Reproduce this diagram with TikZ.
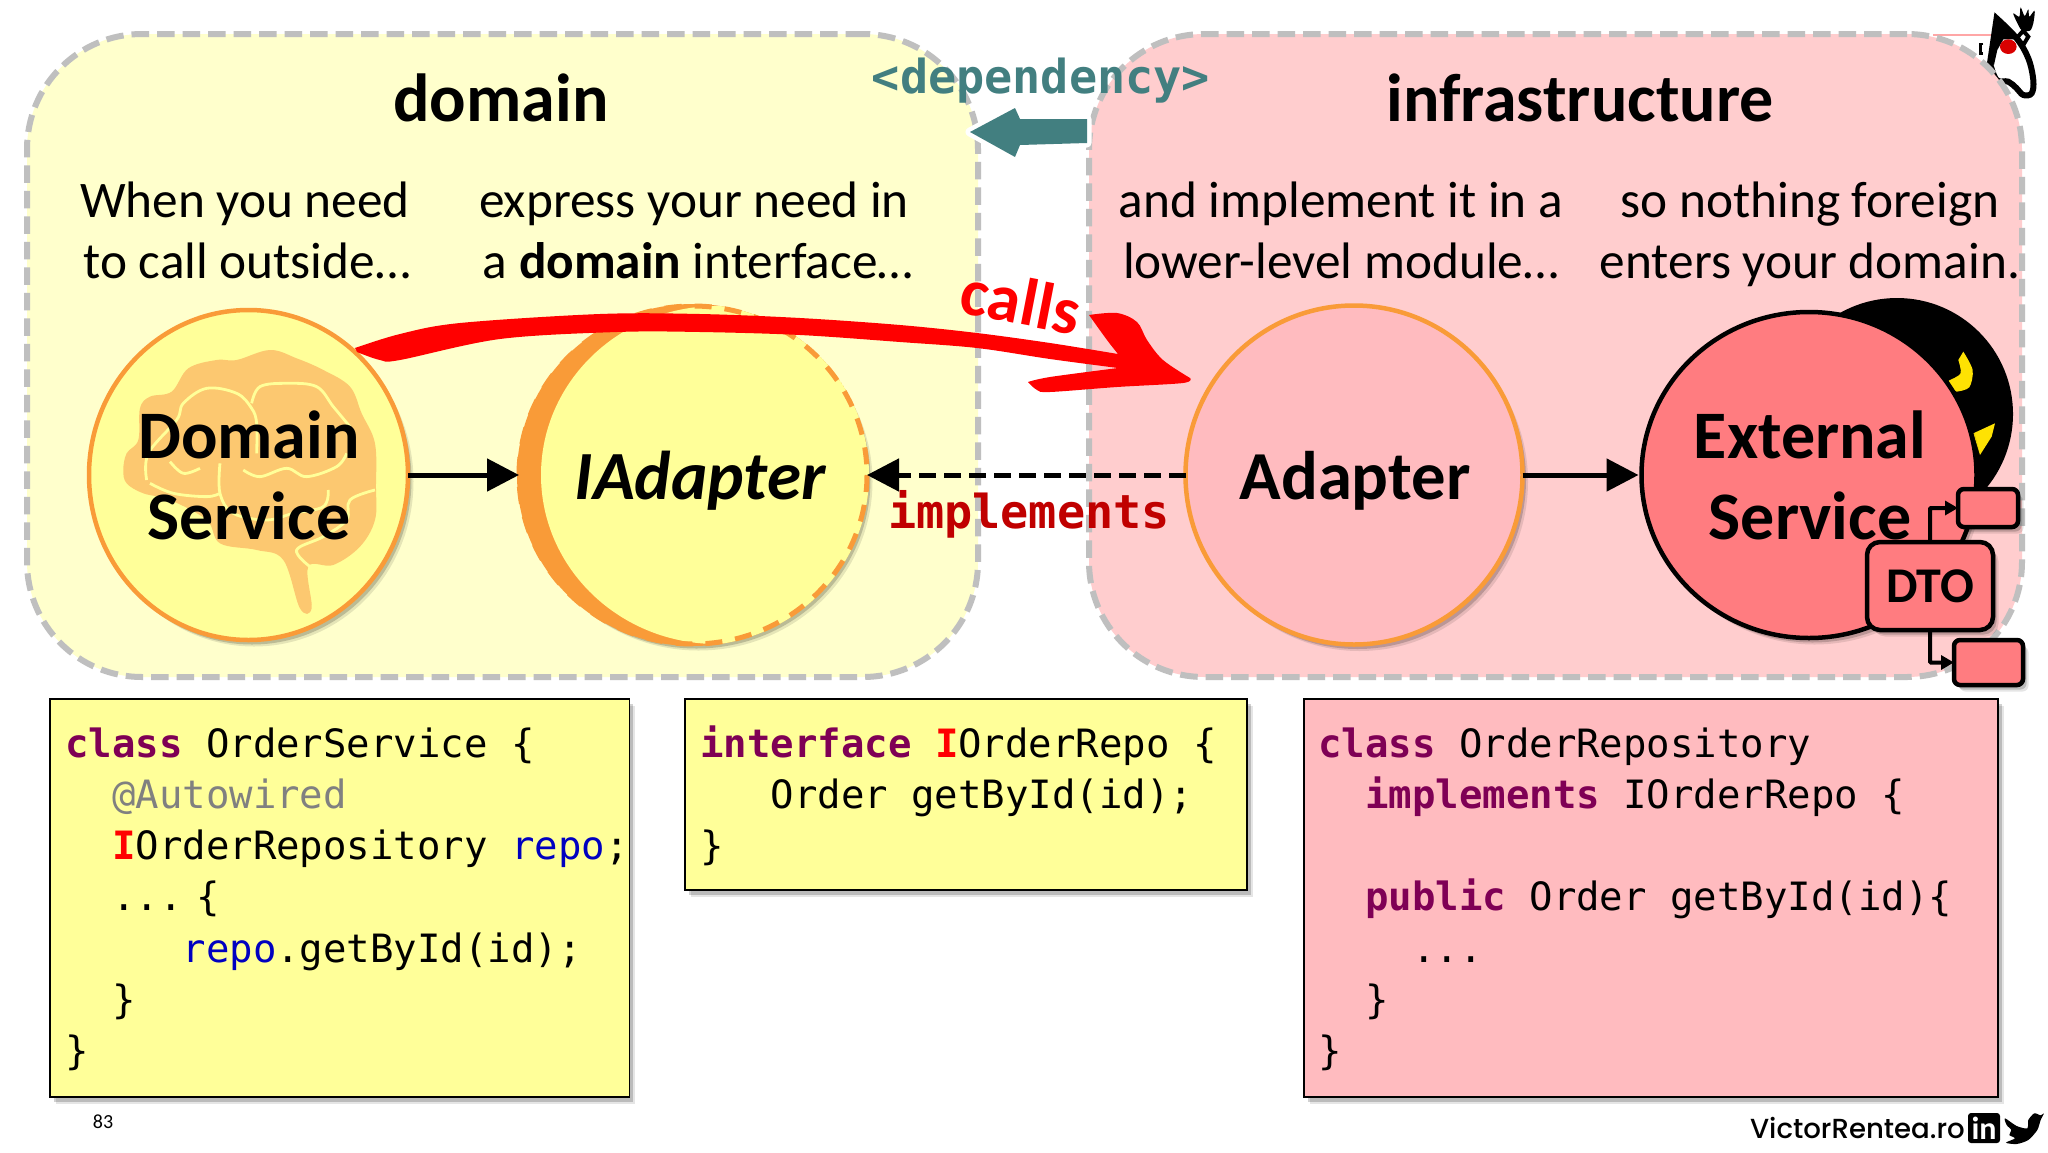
\documentclass[tikz,border=0pt]{standalone}
\usepackage{fontspec}
\setmainfont{Carlito}
\newfontfamily\codefont{DejaVu Sans Mono}
\newfontfamily\popfont{Poppins Medium}
\usetikzlibrary{arrows.meta,shadows,shapes.geometric}
\definecolor{panelY}{HTML}{FFFFCC}
\definecolor{panelR}{HTML}{FFCDCE}
\definecolor{dashG}{HTML}{BFBFBF}
\definecolor{yel}{HTML}{FFFF99}
\definecolor{pnk}{HTML}{FFBBBF}
\definecolor{ext}{HTML}{FF7C80}
\definecolor{org}{HTML}{F99B38}
\definecolor{brainC}{HTML}{FCC870}
\definecolor{tealA}{HTML}{427F80}
\definecolor{kw}{HTML}{7F0055}
\definecolor{fld}{HTML}{0000C0}
\definecolor{darkred}{HTML}{C00000}
\newcommand{\kwd}[1]{\textcolor{kw}{\bfseries #1}}
\newcommand{\fldn}[1]{\textcolor{fld}{#1}}
\newcommand{\ind}[1]{\hspace*{#1\dimexpr 23.48pt\relax}}
\tikzset{
  softshadow/.style={general shadow={fill=black,opacity=.10,shadow xshift=5.5pt,shadow yshift=-6.5pt},
                     general shadow={fill=black,opacity=.18,shadow xshift=3.5pt,shadow yshift=-4.5pt}},
  panel/.style={rectangle,inner sep=0,outer sep=0,rounded corners=115pt,line width=6pt,draw=dashG,dash pattern=on 17.5pt off 8pt},
  ball/.style={ellipse,inner sep=0,outer sep=0,line width=4pt,softshadow},
  codebox/.style={rectangle,inner sep=0,outer sep=0,draw=black,line width=1.6pt,softshadow},
  code/.style={anchor=north west,inner sep=0,align=left,font=\codefont\fontsize{39}{51.2}\selectfont},
  para/.style={anchor=north,inner sep=0,align=center,font=\fontsize{51.3}{61}\selectfont},
  head/.style={anchor=base,inner sep=0,font=\bfseries\fontsize{68}{80}\selectfont},
  balltext/.style={anchor=north,inner sep=0,align=center,font=\bfseries\fontsize{68}{81}\selectfont},
  dtobox/.style={rectangle,inner sep=0,outer sep=0,draw=black,line width=4.5pt,fill=ext,softshadow},
  dep/.style={line width=5pt,-{Triangle[length=32pt,width=32pt]}},
  smalldep/.style={line width=4pt,-{Triangle[length=13pt,width=14pt]}},
}
\begin{document}
\begin{tikzpicture}[x=1pt,y=-1pt]
\useasboundingbox (0,0) rectangle (2048,1152);
\fill[white] (0,0) rectangle (2048,1152);

% Duke
\begin{scope}[shift={(1600,0)},x=.3333pt,y=-.3333pt]
  \draw[draw=red!35,line width=2.2pt] (1000,106) -- (1195,106);
  \draw[line width=2.5pt] (1150,132) -- (1142,132) -- (1142,160) -- (1150,160);
  \draw[fill=white,line width=6pt] plot[smooth,tension=.6] coordinates {(1190,55) (1250,115) (1285,175) (1300,240) (1295,280) (1270,285) (1250,265) (1225,245) (1190,240) (1170,190)} -- cycle;
  \fill plot[smooth,tension=.4] coordinates {(1190,50) (1220,85) (1250,118)} -- (1210,118) -- (1192,150) -- (1182,195) -- (1170,188) -- (1180,140) -- (1190,100) -- cycle;
  \fill[red!85!black] (1225,140) ellipse [x radius=25,y radius=22];
  \draw[line width=4pt,fill=white] (1252,112) -- (1270,92) -- (1285,110) -- (1270,135) -- cycle;
  \fill plot[smooth cycle,tension=.5] coordinates {(1240,40) (1258,50) (1262,22) (1274,48) (1285,28) (1288,50) (1304,32) (1300,70) (1290,92) (1265,90) (1250,65)};
\end{scope}

% Panels
\node[panel,fill=panelY,minimum width=951pt,minimum height=643pt] (domain) at (502.5,355.5) {};
\node[panel,fill=panelR,minimum width=933pt,minimum height=643pt] (infra) at (1555.5,355.5) {};

% Headings
\node[head] (domainT) at (501,121) {domain};
\node[head] (infraT) at (1580,121) {infrastructure};

% Paragraphs
\node[para] (p1) at (245,175) {\strut When you need\\\hspace*{4pt}to call outside…};
\node[para] (p2) at (694,175) {\strut express your need in\\\hspace*{8pt}a \textbf{domain} interface…};
\node[para] (p3) at (1341,175) {\strut and implement it in a\\lower-level module…};
\node[para] (p4) at (1810,175) {\strut so nothing foreign\\enters your domain.};

% Domain Service
\node[ball,fill=yel,draw=org,line width=4.5pt,minimum width=319pt,minimum height=330pt] (ds) at (248.5,475) {};
\begin{scope}[shift={(60,280)},x=.3333pt,y=-.3333pt]
  \fill[brainC] plot[smooth cycle,tension=.6] coordinates {(190,570) (200,520) (235,480) (240,385) (270,350) (335,335) (385,265) (470,240) (530,240) (630,210) (710,235) (790,270) (870,320) (905,400) (945,490) (948,620) (945,720) (900,800) (820,855) (745,860) (755,985) (720,985) (670,840) (590,810) (480,790) (440,720) (330,660) (250,640) (200,610)};
  \begin{scope}[draw=yel,line width=2.8pt]
  \draw plot[smooth,tension=.6] coordinates {(260,600) (265,520) (350,420) (370,370) (440,325) (530,340) (575,385) (590,430) (590,520)};
  \draw plot[smooth,tension=.6] coordinates {(575,370) (600,320) (680,310) (770,320) (820,380) (870,440)};
  \draw plot[smooth,tension=.6] coordinates {(550,570) (600,590) (680,565) (740,590) (830,560) (860,520)};
  \draw plot[smooth,tension=.6] coordinates {(330,545) (370,580) (420,565)};
  \draw plot[smooth,tension=.6] coordinates {(480,550) (480,640) (520,700) (620,720) (700,700) (790,680) (805,630)};
  \draw plot[smooth,tension=.6] coordinates {(945,630) (870,660) (860,720) (790,770) (710,810) (750,860)};
  \draw plot[smooth,tension=.6] coordinates {(270,610) (340,640) (440,650) (480,640)};
  \end{scope}
\end{scope}
\node[balltext] (dsT) at (249,401.8) {\strut Domain\\Service};

% IAdapter
\node[ball,fill=yel,minimum width=348pt,minimum height=338pt] (ia) at (693,475) {};
\begin{scope}
  \clip (ia.center) ellipse [x radius=176,y radius=171];
  \fill[org] (ia.center) ellipse [x radius=176,y radius=171];
  \fill[yel] (717,475) ellipse [x radius=176,y radius=169];
\end{scope}
\draw[org,line width=5pt,dash pattern=on 17pt off 13pt] (ia.center) ellipse [x radius=174,y radius=169];
\node[anchor=base,inner sep=0,font=\bfseries\itshape\fontsize{69}{80}\selectfont] (iaT) at (700,499) {IAdapter};

% Adapter
\node[ball,fill=pnk,draw=org,line width=4.5pt,minimum width=337pt,minimum height=339pt] (ad) at (1354,475) {};
\node[anchor=base,inner sep=0,font=\bfseries\fontsize{68.7}{80}\selectfont] (adT) at (1355,499) {Adapter};

% External service
\fill[black] (1897,414) circle [radius=116];
\begin{scope}[shift={(1620,280)},x=.3333pt,y=-.3333pt]
  \fill[yellow!85!orange] plot[smooth,tension=.5] coordinates {(1030,215) (1058,270) (1048,322) (1010,335)} -- (975,310) -- plot[smooth,tension=.5] coordinates {(990,300) (1022,280) (1015,240)} -- cycle;
  \fill[yellow!85!orange] (1125,430) -- (1115,470) -- (1080,525) -- (1060,460) -- cycle;
\end{scope}
\node[ball,fill=ext,draw=black,line width=4.5pt,minimum width=335pt,minimum height=326pt] (ex) at (1809,475) {};
\node[balltext] (exT) at (1810,401.8) {\strut External\\Service};

% DTO group
\node[dtobox,rounded corners=6pt,minimum width=60pt,minimum height=38pt] (smallA) at (1988,508) {};
\node[dtobox,rounded corners=6pt,minimum width=69pt,minimum height=45pt] (smallB) at (1988.5,662.5) {};
\node[dtobox,rounded corners=13pt,minimum width=126pt,minimum height=88pt,font=\bfseries\fontsize{50}{58}\selectfont] (dto) at (1930,586) {DTO};
\draw[smalldep,rounded corners=1pt] (dto.north) -- (dto.north |- smallA.west) -- (smallA.west);
\draw[smalldep,rounded corners=1pt] (dto.south) -- (dto.south |- smallB.west) -- (smallB.west);

% Solid and dashed dependencies
\draw[dep] (ds.east) -- (ia.west);
\draw[dep,shorten >=3pt] (ad.east) -- (ex.west);
\draw[dep,dash pattern=on 17pt off 8pt] (ad.west) -- (ia.east);
\node[anchor=base,inner sep=0,text=darkred,font=\codefont\bfseries\fontsize{46.8}{50}\selectfont] (impl) at (1029,528) {implements};

% Dependency arrow
\node[anchor=base,inner sep=0,text=tealA,font=\codefont\bfseries\fontsize{46.8}{50}\selectfont] (depT) at (1041,93) {<dependency>};
\path[preaction={draw=white,line width=9pt,line join=round,general shadow={fill=black,opacity=.18,shadow xshift=2pt,shadow yshift=-3pt}},fill=tealA]
  (970,132) -- (1015,108) -- (1020,119) -- (1087,119) -- (1087,143) -- (1020,145) -- (1015,157) -- cycle;

% Calls arrow
\fill[red] plot[smooth,tension=.55] coordinates {(355,348) (400,334) (460,323) (600,314) (700,314) (800,318) (900,325) (977,333) (1050,343) (1118,354)}
  -- plot[smooth,tension=.55] coordinates {(1118,354) (1107,340) (1089,315)}
  -- plot[smooth,tension=.55] coordinates {(1089,315) (1117,313) (1137,322) (1147,340) (1163,360) (1190,378)}
  -- plot[smooth,tension=.55] coordinates {(1190,378) (1183,383) (1117,387) (1050,392) (1037,390) (1028,382)}
  -- plot[smooth,tension=.55] coordinates {(1028,382) (1050,377) (1118,368)}
  -- plot[smooth,tension=.55] coordinates {(1118,368) (1050,359) (977,348) (900,342) (800,335) (700,332) (617,332) (500,339) (400,360) (380,360) (357,352)} -- cycle;
\node[inner sep=0,rotate=-11,text=red,font=\bfseries\fontsize{67}{70}\selectfont] (callsT) at (1021,301) {calls};

% Code boxes
\node[codebox,fill=yel,minimum width=579.5pt,minimum height=398pt] (c1) at (339.75,898) {};
\node[codebox,fill=yel,minimum width=562pt,minimum height=191pt] (c2) at (966,794.5) {};
\node[codebox,fill=pnk,minimum width=694pt,minimum height=398pt] (c3) at (1651,898) {};
\node[code] (c1T) at (65,721.2) {\strut\kwd{class} OrderService \{\\
\ind{2}\textcolor{gray}{@Autowired}\\
\ind{2}\textcolor{red}{\bfseries I}OrderRepository \fldn{repo};\\
\ind{2}...\hspace{14pt}\{\\
\ind{5}\fldn{repo}.getById(id);\\
\ind{2}\}\\
\}};
\node[code] (c2T) at (700,721.2) {\strut\kwd{interface} \textcolor{red}{\bfseries I}OrderRepo \{\\
\ind{3}Order getById(id);\\
\}};
\node[code] (c3T) at (1318,721.2) {\strut\kwd{class} OrderRepository\\
\ind{2}\kwd{implements} IOrderRepo \{\\
\mbox{}\\
\ind{2}\kwd{public} Order getById(id)\{\\
\ind{4}...\\
\ind{2}\}\\
\}};

% Footer
\node[inner sep=0,font=\fontsize{20}{22}\selectfont] (pageno) at (103,1122) {83};
\node[anchor=base east,inner sep=0,font=\popfont\fontsize{27.6}{30}\selectfont] (site) at (1965,1138.5) {VictorRentea.ro};
\node[rectangle,rounded corners=3pt,fill=black,text=white,inner sep=0,minimum width=32pt,minimum height=30pt,font=\bfseries\fontsize{32}{32}\selectfont] (li) at (1984,1128) {in};
\begin{scope}[shift={(1700,1080)},x=.3333pt,y=-.3333pt]
  \fill plot[smooth cycle,tension=.45] coordinates {(915,115) (950,138) (982,145) (985,120) (1003,100) (1022,106) (1032,100) (1022,120) (1012,150) (985,180) (950,192) (918,188) (945,175) (928,165) (934,150) (920,135)};
\end{scope}
\end{tikzpicture}
\end{document}
